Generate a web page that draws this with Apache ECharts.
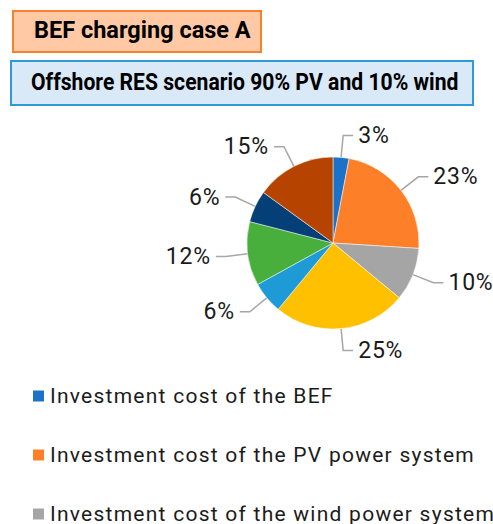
<!DOCTYPE html>
<html>
<head>
<meta charset="utf-8">
<script src="https://cdn.jsdelivr.net/npm/echarts@6/dist/echarts.min.js"></script>
<style>
  html, body { margin: 0; padding: 0; background: #fff; }
  #chart { width: 493px; height: 524px; }
  /* legend + labels use a spaced-out look */
  #chart text[fill="#1b1b1b"] { letter-spacing: 1.25px; }
  #chart text[fill="#1a1a1a"] { letter-spacing: 0.8px; }
</style>
</head>
<body>
<div id="chart"></div>
<script>
// cost shares (%) for BEF charging case A
const categories = [
  'Investment cost of the BEF',
  'Investment cost of the PV power system',
  'Investment cost of the wind power system',
  'Investment cost of the battery storage system',
  'Investment cost of the charging station',
  'O&M cost of the BEF',
  'O&M cost of the RES power systems',
  'Replacement cost of the batteries'
];
const shares = [3, 23, 10, 25, 6, 12, 6, 15];
const colors = ['#1C71C9', '#FD7F28', '#A5A5A5', '#FFC000', '#1E9BD7', '#48AE3C', '#053F78', '#B64400'];
// only the first legend entries fit inside the picture
const legendShown = categories.slice(0, 3);

const chart = echarts.init(document.getElementById('chart'), null, { renderer: 'svg' });
chart.setOption({
  animation: false,
  color: colors,
  graphic: [
    {
      type: 'rect', left: 12, top: 10,
      shape: { width: 248, height: 41 },
      style: { fill: '#FFC9A6', stroke: '#F5822F', lineWidth: 2 }
    },
    {
      type: 'text', left: 34, top: 18,
      style: { text: 'BEF charging case A', fill: '#000', font: 'bold 23.5px Roboto, sans-serif' }
    },
    {
      type: 'rect', left: 10, top: 60,
      shape: { width: 462, height: 44 },
      style: { fill: '#DAE9F7', stroke: '#2E9BD6', lineWidth: 2 }
    },
    {
      type: 'text', left: 31, top: 71, scaleX: 0.92,
      style: { text: 'Offshore RES scenario 90% PV and 10% wind', fill: '#000', font: 'bold 23px Roboto, sans-serif' }
    }
  ],
  legend: {
    orient: 'vertical',
    left: 31,
    top: 385,
    height: 600,
    padding: 0,
    itemWidth: 13,
    itemHeight: 13,
    itemGap: 37,
    icon: 'rect',
    textStyle: { fontFamily: 'Roboto', fontSize: 21, lineHeight: 22, color: '#1b1b1b' },
    data: legendShown
  },
  series: [{
    type: 'pie',
    center: [333, 243],
    radius: 86,
    startAngle: 90,
    clockwise: true,
    itemStyle: { borderColor: '#fff', borderWidth: 0.5 },
    label: {
      formatter: '{c}%',
      fontFamily: 'Roboto',
      fontSize: 23,
      color: '#1a1a1a',
      overflow: 'none'
    },
    labelLine: {
      length: 22,
      length2: 10,
      lineStyle: { color: '#A6A6A6', width: 1.5 }
    },
    data: categories.map((name, i) => ({ name, value: shares[i] }))
  }]
});
</script>
</body>
</html>
